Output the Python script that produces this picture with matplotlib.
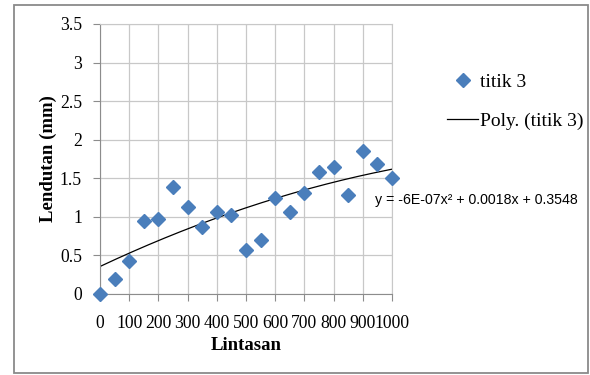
import numpy as np
import matplotlib
matplotlib.use("Agg")
import matplotlib.pyplot as plt
from matplotlib.lines import Line2D
from matplotlib.patches import Rectangle

x_vals = [0, 50, 100, 150, 200, 250, 300, 350, 400, 450, 500,
          550, 600, 650, 700, 750, 800, 850, 900, 950, 1000]
y_vals = [0.00, 0.20, 0.43, 0.94, 0.97, 1.39, 1.13, 0.87, 1.06, 1.03, 0.57,
          0.70, 1.25, 1.06, 1.31, 1.58, 1.64, 1.28, 1.85, 1.69, 1.51]
x_ticks = [0, 100, 200, 300, 400, 500, 600, 700, 800, 900, 1000]
y_ticks = [0, 0.5, 1, 1.5, 2, 2.5, 3, 3.5]
y_tick_labels = ["0", "0.5", "1", "1.5", "2", "2.5", "3", "3.5"]
series_name = "titik 3"
trend_name = "Poly. (titik 3)"
equation = "y = -6E-07x² + 0.0018x + 0.3548"

serif = ["Liberation Serif", "DejaVu Serif"]
sans = ["Liberation Sans", "DejaVu Sans"]

W, H = 590, 375
fig = plt.figure(figsize=(W/100, H/100), dpi=100)
fig.patches.append(Rectangle((13.5/W, 1-372.5/H), (588-13.5)/W, (372.5-5)/H,
                             transform=fig.transFigure, fill=False,
                             edgecolor="#8a8a8a", linewidth=1.3))
ax = fig.add_axes([100/W, 1-294/H, (392-100)/W, (294-24)/H])

# trendline (2nd-order polynomial fit)
coef = np.polyfit(x_vals, y_vals, 2)
xs = np.linspace(0, 1000, 200)
ax.plot(xs, np.polyval(coef, xs), color="black", linewidth=0.9, zorder=2)
ax.plot(x_vals, y_vals, linestyle="none", marker="D", markersize=7.5,
        color="#4a7ebb", markeredgecolor="#4a7ebb", zorder=3, clip_on=False)

ax.set_xlim(0, 1000)
ax.set_ylim(0, 3.5)
ax.set_xticks(x_ticks)
ax.set_xticklabels([str(v) for v in x_ticks], fontfamily=serif, fontsize=12.7)
ax.set_yticks(y_ticks)
ax.set_yticklabels(y_tick_labels, fontfamily=serif, fontsize=12.7)
ax.grid(True, color="#c8c8c8", linewidth=0.9)
ax.set_axisbelow(True)
for s in ["top", "right"]:
    ax.spines[s].set_color("#c8c8c8")
for s in ["left", "bottom"]:
    ax.spines[s].set_color("#8c8c8c")
ax.tick_params(axis="x", direction="out", length=5, color="#8c8c8c", pad=10)
ax.tick_params(axis="y", direction="out", length=5, color="#8c8c8c", pad=8)

ax.set_xlabel("Lintasan", fontfamily=serif, fontsize=13.5, fontweight="bold", labelpad=4)
ax.set_ylabel("Lendutan (mm)", fontfamily=serif, fontsize=13.5, fontweight="bold", labelpad=2)

fig.text(375/W, 1-200/H, equation, fontfamily=sans, fontsize=10.2, va="center", ha="left")

handles = [Line2D([], [], linestyle="none", marker="D", markersize=7, color="#4a7ebb"),
           Line2D([], [], color="black", linewidth=0.9)]
fig.legend(handles, [series_name, trend_name], loc="upper left",
           bbox_to_anchor=(447/W, 1-73/H), frameon=False, borderpad=0,
           borderaxespad=0, prop={"family": serif, "size": 14},
           handlelength=1.6, labelspacing=1.12, handletextpad=0.12)

fig.savefig("out.png", dpi=100)
